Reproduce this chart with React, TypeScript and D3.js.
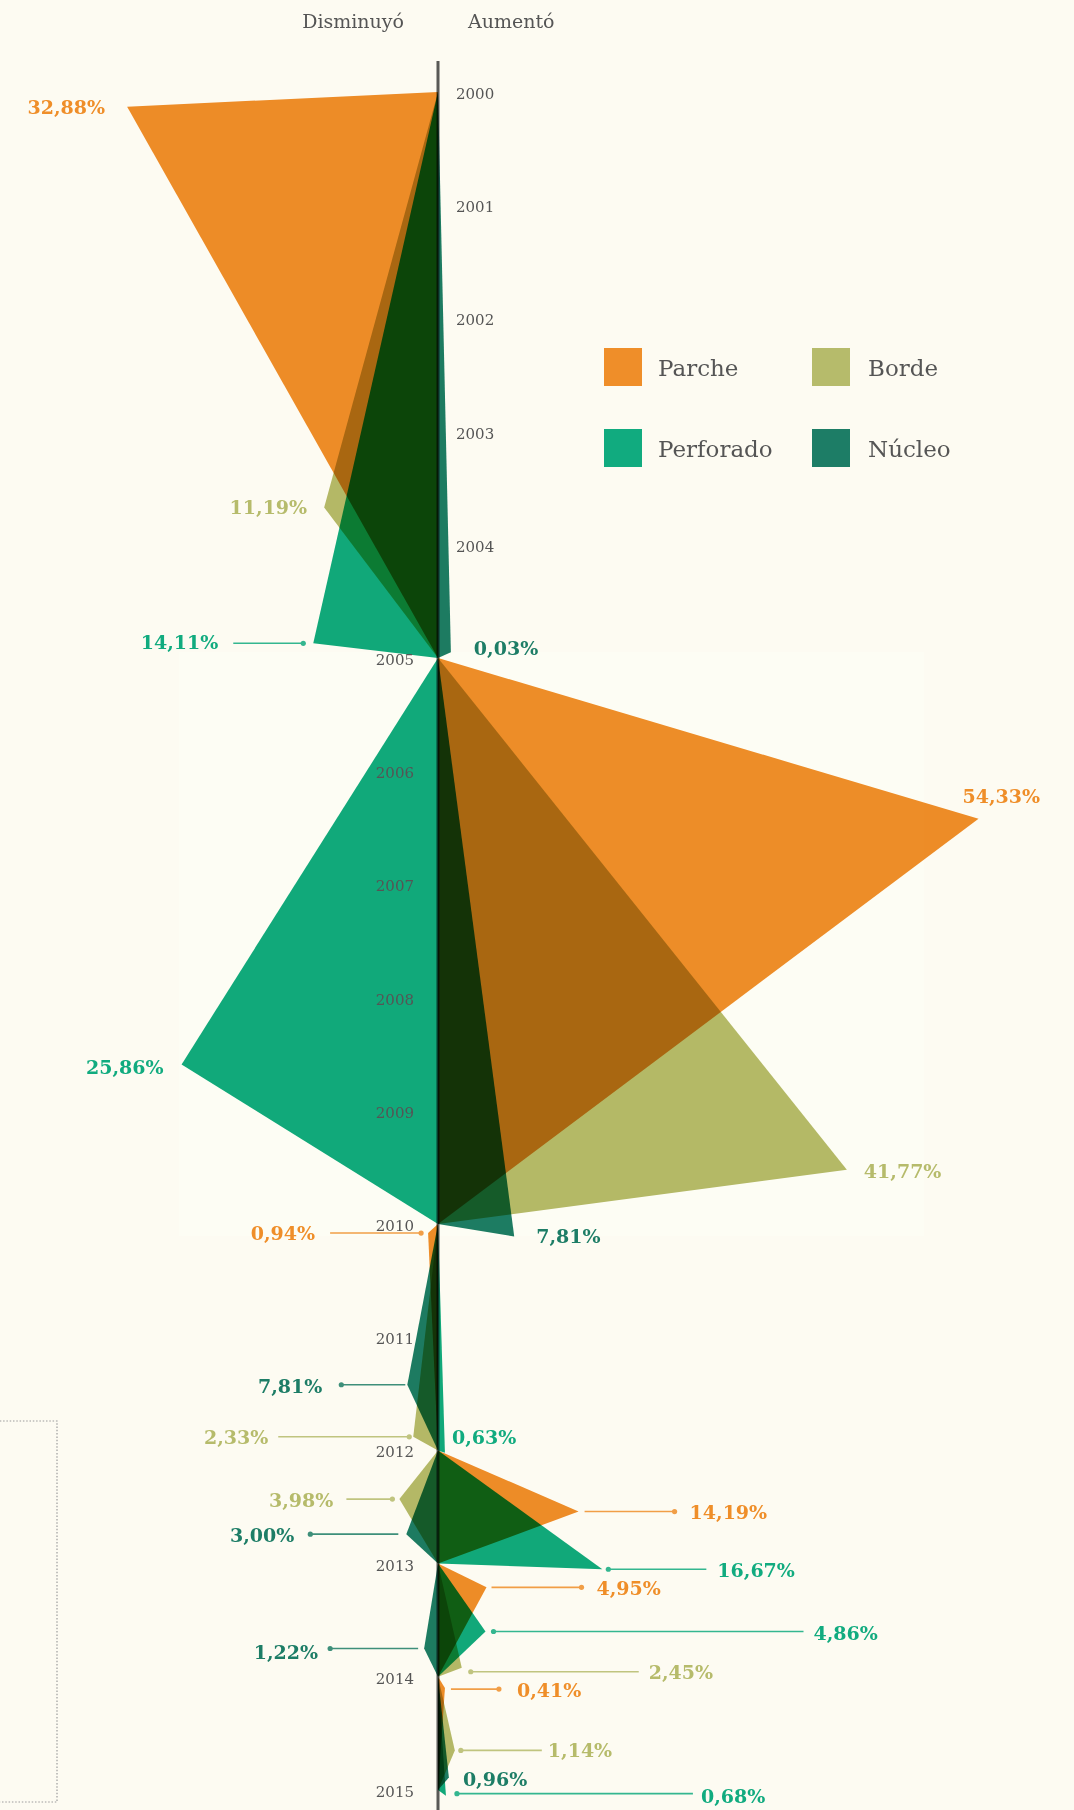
import React from "react";
import * as d3 from "d3";

// ---------- DATA ----------
const SERIES = ["Parche", "Borde", "Perforado", "Núcleo"];
const COLORS = ["#EF8E29", "#B6BB6B", "#11AB7F", "#1D7D66"];

const YEAR_TICKS = [2000, 2001, 2002, 2003, 2004, 2005, 2006, 2007, 2008, 2009, 2010, 2011, 2012, 2013, 2014, 2015];
const PERIOD_START = [2000, 2005, 2010, 2012, 2013, 2014];
const PERIOD_END = [2005, 2010, 2012, 2013, 2014, 2015];

// labelled change (%), signed: negative = disminuyó, positive = aumentó
const PARCHE = [-32.88, 54.33, -0.94, 14.19, 4.95, 0.41];
const BORDE = [-11.19, 41.77, -2.33, -3.98, 2.45, 1.14];
const PERFORADO = [-14.11, -25.86, 0.63, 16.67, 4.86, 0.68];
const NUCLEO = [0.03, 7.81, -7.81, -3.0, -1.22, 0.96];

// extent of each drawn triangle (%)
const PARCHE_SHAPE = [-31.4, 54.6, -1.0, 14.2, 4.9, 0.7];
const BORDE_SHAPE = [-11.5, 41.3, -2.5, -3.9, 2.4, 1.7];
const PERFORADO_SHAPE = [-12.6, -25.9, 0.7, 16.6, 4.8, 0.8];
const NUCLEO_SHAPE = [1.3, 7.7, -3.1, -3.2, -1.4, 1.1];

// time position of the triangle tip (fractional year)
const PARCHE_AT = [2000.13, 2006.42, 2010.08, 2012.54, 2013.21, 2014.1];
const BORDE_AT = [2003.67, 2009.52, 2011.88, 2012.43, 2013.92, 2014.65];
const PERFORADO_AT = [2004.87, 2008.59, 2012.02, 2013.05, 2013.6, 2015.05];
const NUCLEO_AT = [2004.95, 2010.11, 2011.42, 2012.74, 2013.75, 2014.89];

const VALUES = [PARCHE, BORDE, PERFORADO, NUCLEO];
const SHAPES = [PARCHE_SHAPE, BORDE_SHAPE, PERFORADO_SHAPE, NUCLEO_SHAPE];
const ATS = [PARCHE_AT, BORDE_AT, PERFORADO_AT, NUCLEO_AT];

// ---------- LAYOUT (label offsets from the tip) ----------
type Lay = { dx: number; dy: number; anchor?: string; lead?: [number, number]; dot?: number; ldy?: number };
const LAYOUT: Lay[][] = [
  [
    { dx: -22, dy: 0 },
    { dx: -16, dy: -23, anchor: "start" },
    { dx: -113, dy: 0, lead: [-7, -98], dot: 0 },
    { dx: 111, dy: 0, lead: [6, 96], dot: 1 },
    { dx: 110, dy: 1, lead: [5, 95], dot: 1 },
    { dx: 72, dy: 2, lead: [6, 54], dot: 1, ldy: 1 },
  ],
  [
    { dx: -17, dy: 0 },
    { dx: 17, dy: 1 },
    { dx: -145, dy: 0, lead: [-4, -135], dot: 0 },
    { dx: -66, dy: 1, lead: [-7, -53], dot: 0 },
    { dx: 187, dy: 4, lead: [9, 177], dot: 0, ldy: 4 },
    { dx: 93, dy: 0, lead: [6, 87], dot: 0 },
  ],
  [
    { dx: -95, dy: -1, lead: [-10, -80], dot: 0 },
    { dx: -18, dy: 3 },
    { dx: 7, dy: -16 },
    { dx: 115, dy: 1, lead: [6, 104], dot: 0 },
    { dx: 328, dy: 1, lead: [8, 318], dot: 0 },
    { dx: 255, dy: 0, lead: [11, 247], dot: 0, ldy: -2 },
  ],
  [
    { dx: 23, dy: -4 },
    { dx: 22, dy: 0 },
    { dx: -85, dy: 1, lead: [-2, -66], dot: 1 },
    { dx: -112, dy: 1, lead: [-8, -96], dot: 1 },
    { dx: -106, dy: 3, lead: [-6, -94], dot: 1 },
    { dx: 14, dy: 1 },
  ],
];

const W = 1074;
const H = 1810;
const BG = "#FDFBF2";
const FONT = "'DejaVu Serif', serif";
const TEXT = "#555555";

const fmt = (v: number) => `${d3.format(".2f")(Math.abs(v)).replace(".", ",")}%`;

export default function App() {
  const x = d3.scaleLinear().domain([0, 10]).range([438, 537]);
  const y = d3.scaleLinear().domain([2000, 2015]).range([92, 1790]);
  const line = d3.line<[number, number]>();
  const x0 = x(0);

  const polys: JSX.Element[] = [];
  const labels: JSX.Element[] = [];
  SERIES.forEach((s, si) => {
    PERIOD_START.forEach((ps, pi) => {
      const tipX = x(SHAPES[si][pi]);
      const tipY = y(ATS[si][pi]);
      const d =
        line([
          [x0, y(ps)],
          [tipX, tipY],
          [x0, y(PERIOD_END[pi])],
        ]) + "Z";
      polys.push(
        <path key={`p-${si}-${pi}`} d={d} fill={COLORS[si]} style={{ mixBlendMode: "multiply" }} />
      );
      const L = LAYOUT[si][pi];
      const lx = tipX + L.dx;
      const ly = tipY + L.dy;
      if (L.lead) {
        const ax = tipX + L.lead[0];
        const bx = tipX + L.lead[1];
        const yy = tipY + (L.ldy || 0);
        const dotX = L.dot === 0 ? ax : bx;
        labels.push(
          <g key={`lead-${si}-${pi}`} opacity={0.85}>
            <line x1={ax} x2={bx} y1={yy} y2={yy} stroke={COLORS[si]} strokeWidth={1.6} />
            <circle cx={dotX} cy={yy} r={2.6} fill={COLORS[si]} />
          </g>
        );
      }
      labels.push(
        <text
          key={`t-${si}-${pi}`}
          x={lx}
          y={ly}
          textAnchor={L.anchor || (L.dx < 0 ? "end" : "start")}
          dominantBaseline="central"
          fontFamily={FONT}
          fontWeight="bold"
          fontSize={19}
          fill={COLORS[si]}
        >
          {fmt(VALUES[si][pi])}
        </text>
      );
    });
  });

  const legendCols = [604, 812];
  const legendRows = [348, 429];

  return (
    <div style={{ position: "absolute", left: 0, top: 0, width: W, height: H, background: BG }}>
      <svg width={W} height={H} style={{ display: "block" }}>
        <rect x={0} y={0} width={W} height={H} fill={BG} />
        <rect x={179} y={652} width={745} height={584} fill="#FDFDF4" />
        <rect
          x={-20}
          y={1421}
          width={77}
          height={381}
          fill="none"
          stroke="#9c9c9c"
          strokeWidth={1.2}
          strokeDasharray="1.5 1.8"
        />

        <text x={404} y={28} textAnchor="end" fontFamily={FONT} fontSize={19} fill={TEXT}>
          Disminuyó
        </text>
        <text x={468} y={28} textAnchor="start" fontFamily={FONT} fontSize={19} fill={TEXT}>
          Aumentó
        </text>

        {polys}
        <line
          x1={x0}
          x2={x0}
          y1={61}
          y2={H}
          stroke="#5a5a5a"
          strokeWidth={3}
          style={{ mixBlendMode: "multiply" }}
        />

        {YEAR_TICKS.map((yr) => {
          const right = yr < 2005;
          return (
            <text
              key={yr}
              x={right ? 456 : 414}
              y={y(yr) + 2}
              textAnchor={right ? "start" : "end"}
              dominantBaseline="central"
              fontFamily={FONT}
              fontSize={15}
              fill={TEXT}
            >
              {yr}
            </text>
          );
        })}

        {labels}

        {SERIES.map((s, i) => {
          const col = i % 2;
          const row = Math.floor(i / 2);
          const sx = legendCols[col];
          const sy = legendRows[row];
          return (
            <g key={s}>
              <rect x={sx} y={sy} width={38} height={38} fill={COLORS[i]} />
              <text
                x={sx + (col === 0 ? 54 : 56)}
                y={sy + 28}
                fontFamily={FONT}
                fontSize={23}
                fill={TEXT}
              >
                {s}
              </text>
            </g>
          );
        })}
      </svg>
    </div>
  );
}
